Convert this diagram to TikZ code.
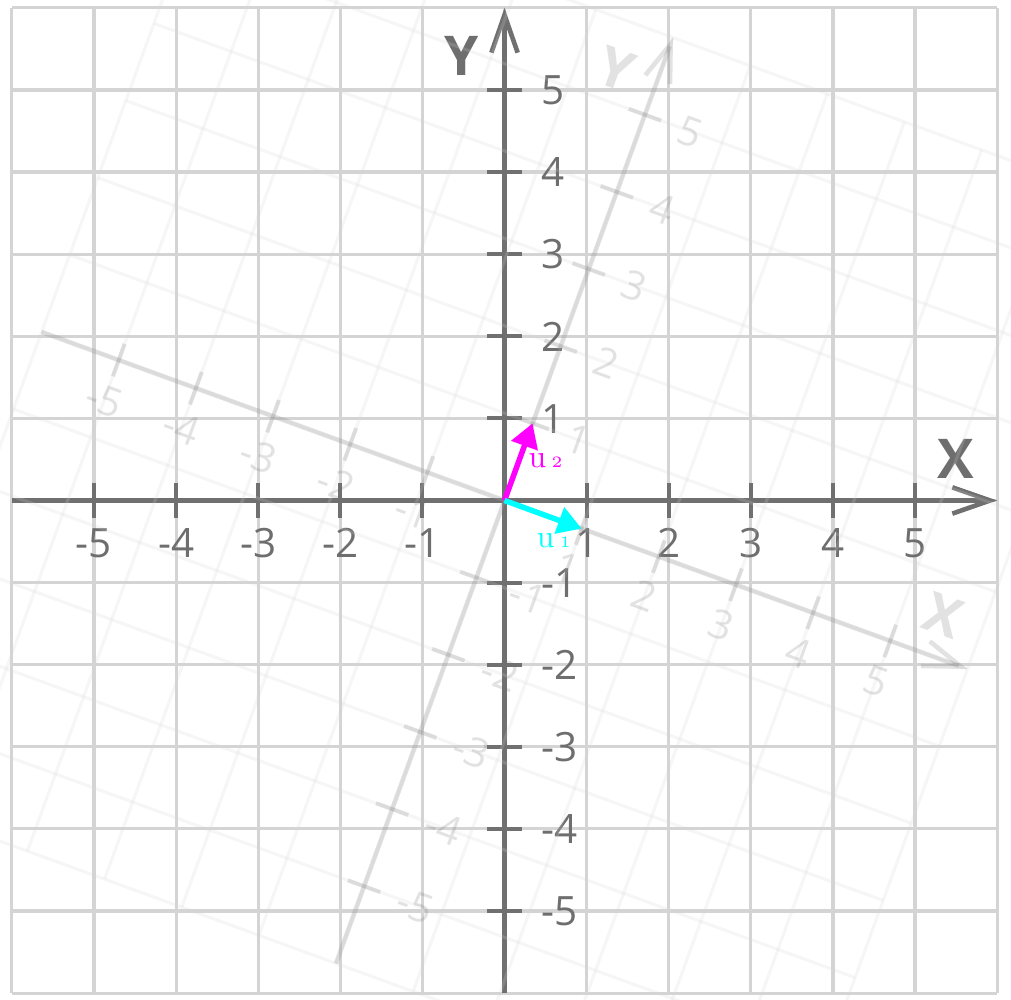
\documentclass[tikz,border=0pt]{standalone}
\usepackage{fontspec}
\setmainfont{Open Sans}
\newfontfamily\lmfont{Latin Modern Roman}
\usetikzlibrary{arrows.meta}
\definecolor{gridc}{HTML}{D4D4D4}
\definecolor{axc}{HTML}{707070}
\definecolor{labc}{HTML}{6E6E6E}
\definecolor{vecm}{HTML}{FF00FF}
\definecolor{vecc}{HTML}{00FFFF}
\tikzset{
  gridline/.style={gridc, line width=1.1pt},
  axisline/.style={axc, line width=1.6pt, -{Straight Barb[length=4.6mm,width=3.2mm,line width=1.6pt]}},
  tickline/.style={axc, line width=1.4pt},
  ticklab/.style={labc, font=\fontsize{14}{14}\selectfont, inner sep=0pt},
  axlab/.style={labc, font=\fontsize{19}{19}\selectfont\bfseries, inner sep=0pt},
  vecline/.style={line width=1.9pt, -{Triangle[length=2.9mm,width=3.3mm]}},
  veclab/.style={inner sep=0pt, font=\lmfont\fontsize{11}{11}\selectfont},
}
\newcommand\myframe{%
  \foreach \i in {-6,...,6} {
    \draw[gridline] (\i,-6) -- (\i,6);
    \draw[gridline] (-6,\i) -- (6,\i);
  }
  \draw[axisline] (-6,0) -- (6,0);
  \draw[axisline] (0,-6) -- (0,6);
  \foreach \i in {-5,-4,-3,-2,-1,1,2,3,4,5} {
    \draw[tickline] (\i,-0.21) -- (\i,0.21);
    \draw[tickline] (-0.21,\i) -- (0.21,\i);
    \node[ticklab, anchor=base] at (\i,-0.69) {\i};
    \node[ticklab, anchor=base west] at (0.44,\i-0.18) {\i};
  }
  \node[axlab] at (5.5,0.51) {X};
  \node[axlab] at (-0.52,5.41) {Y};
}
\begin{document}
\begin{tikzpicture}
  \useasboundingbox (-6.145,-6.084) rectangle (6.169,6.096);
  \clip (-6.145,-6.084) rectangle (6.169,6.096);
  \myframe
  \begin{scope}[rotate=-20, transform shape, opacity=0.2]
    \myframe
  \end{scope}
  \coordinate (O) at (0,0);
  \coordinate (U1) at (-20:1);
  \coordinate (U2) at (70:1);
  \draw[vecline, vecm] (O) -- (U2);
  \draw[vecline, vecc] (O) -- (U1);
  \node[veclab, text=vecm] (L2) at (0.5,0.49) {u\,{\fontsize{5.5}{5.5}\selectfont 2}};
  \node[veclab, text=vecc] (L1) at (0.6,-0.49) {u\,{\fontsize{5.5}{5.5}\selectfont 1}};
\end{tikzpicture}
\end{document}
